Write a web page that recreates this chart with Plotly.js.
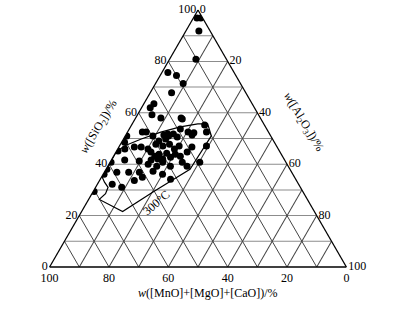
<!DOCTYPE html>
<html>
<head>
<meta charset="utf-8">
<script src="https://cdn.plot.ly/plotly-3.0.1.min.js"></script>
<style>html,body{margin:0;padding:0;background:#fff;}#chart{width:409px;height:317px;}</style>
</head>
<body>
<div id="chart"></div>
<script>
// Sample compositions, mass %: SiO2, Al2O3, MnO+MgO+CaO
var sio2 = [96.9,96.9,91.8,80.8,75.7,74.5,71.4,67.8,63.5,62.0,59.2,58.0,58.0,51.4,52.5,52.5,51.0,48.5,
  53.7,52.5,55.3,52.5,52.2,51.0,51.4,51.0,50.6,49.8,49.0,47.8,47.1,47.8,45.9,47.1,46.7,46.7,45.9,45.9,45.1,
  44.7,43.9,44.3,42.0,43.1,42.0,41.6,42.7,46.7,44.7,43.1,43.9,40.8,39.2,39.2,40.0,40.8,41.2,41.6,40.8,38.0,
  36.1,36.9,36.9,36.9,34.9,33.7,34.1,32.2,31.0,29.4,39.2,37.3,36.1,47.1,40.8,57.6,51.8,51.8];
var al2o3 = [1.2,2.5,4.4,8.9,2.0,5.5,9.3,7.2,3.4,2.9,4.9,8.5,15.3,22.3,5.0,6.3,0.5,1.0,
  17.2,20.4,24.6,26.6,22.5,9.3,12.8,14.6,17.7,14.2,12.3,11.9,14.6,16.5,19.1,20.1,5.2,7.5,10.2,2.4,0.5,
  11.8,14.9,17.3,15.5,13.9,17.1,13.4,19.4,24.6,24.0,22.5,20.4,24.3,21.1,16.5,13.2,17.7,9.6,4.5,0.3,0.3,
  0.3,4.2,8.2,11.8,13.8,11.7,23.7,5.0,8.8,0.3,26.7,16.2,20.0,29.3,30.2,15.9,13.9,15.8];
var oxides = sio2.map(function(v, i){ return +(100 - v - al2o3[i]).toFixed(1); });

// 300 °C boundary
var bndSiO2  = [45.0,47.5,49.8,52.5,54.5,55.7,55.7,51.0,38.0,29.4,21.6,26.3,28.5,31.0,33.0,34.9,45.0];
var bndAl2O3 = [0.0, 2.2, 6.0,11.2,16.8,22.1,25.4,29.0,28.3,20.4,13.8, 3.6, 4.6, 4.2, 2.0, 0.3, 0.0];
var bndOx = bndSiO2.map(function(v, i){ return +(100 - v - bndAl2O3[i]).toFixed(1); });

var tickVals = [0,10,20,30,40,50,60,70,80,90,100];
var tickText = ['0','','20','','40','','60','','80','','100'];

var serif = 'Liberation Serif, Times New Roman, serif';

var traces = [
  {type:'scatterternary', mode:'lines', a:bndSiO2, b:bndOx, c:bndAl2O3,
   line:{color:'#000', width:1.2}, hoverinfo:'skip'},
  {type:'scatterternary', mode:'markers', a:sio2, b:oxides, c:al2o3,
   marker:{color:'#000', size:7, line:{width:0}}}
];

function axis(gc){
  return {min:0, tickmode:'array', tickvals:tickVals, ticktext:tickText,
    tickfont:{family:serif, size:12, color:'#000'}, ticks:'',
    showgrid:true, gridcolor:gc, gridwidth:1, linecolor:'#000', linewidth:1.3,
    title:{text:''}};
}

function note(px, py, txt, ang){
  return {xref:'paper', yref:'paper', x:px/409, y:1-py/317, xanchor:'center', yanchor:'middle',
    showarrow:false, textangle:ang, text:txt, font:{family:serif, size:12, color:'#000'}};
}

var layout = {
  width:409, height:317, margin:{l:0,r:0,t:0,b:0},
  paper_bgcolor:'#fff', showlegend:false,
  ternary:{
    sum:100, bgcolor:'#fff',
    domain:{x:[0.0929,0.8753], y:[0.1577,0.9685]},
    aaxis:axis('#8c8c8c'), baxis:axis('#444'), caxis:axis('#444')
  },
  annotations:[
    note(99, 127, '<i>w</i>([SiO<sub>2</sub>])/%', -59),
    note(303, 122, '<i>w</i>([Al<sub>2</sub>O<sub>3</sub>])/%', 59),
    note(208, 293, '<i>w</i>([MnO]+[MgO]+[CaO])/%', 0),
    note(156, 203, '300°C', -41)
  ]
};

Plotly.newPlot('chart', traces, layout, {staticPlot:true, displayModeBar:false});
</script>
</body>
</html>
